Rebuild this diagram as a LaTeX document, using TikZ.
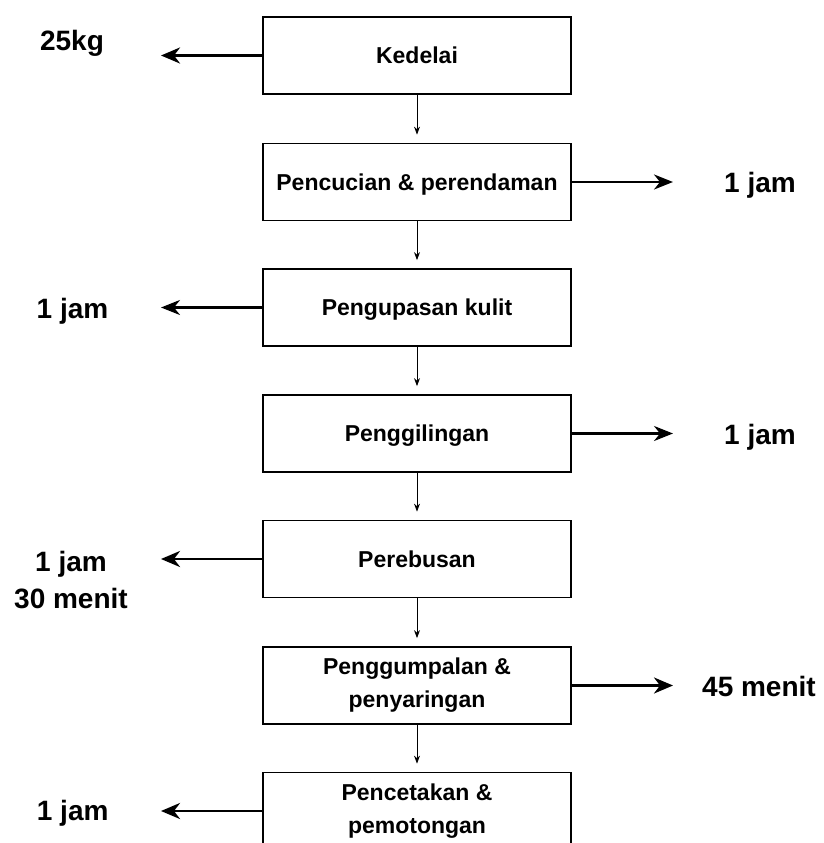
\documentclass[tikz,border=0pt]{standalone}
\usepackage{fontspec}
\setmainfont{Liberation Sans}
\usetikzlibrary{arrows.meta}
\begin{document}
\begin{tikzpicture}[x=1pt,y=-1pt,
  boxbase/.style={draw, line width=1.8pt, minimum width=308pt, minimum height=77pt, inner sep=0pt, align=center,
    font=\fontsize{23}{33}\selectfont\bfseries},
  box/.style={boxbase, text height=16.4pt, text depth=0pt},
  box2/.style={boxbase},
  lbl/.style={font=\fontsize{28}{37}\selectfont\bfseries, align=center, inner sep=0pt, anchor=base},
  down/.style={-{Stealth[length=8pt,width=6pt]}, line width=0.9pt, shorten >=8pt},
  side/.style={-{Stealth[length=19pt,width=16pt,inset=6pt]}, line width=2.8pt},
  sidethin/.style={-{Stealth[length=19pt,width=15pt,inset=6pt]}, line width=2.1pt}]
\clip (0,0) rectangle (823,843);
\fill[white] (0,0) rectangle (823,843);
\node[box] (b1) at (417,55.5) {Kedelai};
\node[box] (b2) at (417,182) {Pencucian \& perendaman};
\node[box] (b3) at (417,307.5) {Pengupasan kulit};
\node[box] (b4) at (417,433.5) {Penggilingan};
\node[box] (b5) at (417,559) {Perebusan};
\node[box2] (b6) at (417,685.5) {Penggumpalan \&\\penyaringan};
\node[box2] (b7) at (417,811) {Pencetakan \&\\pemotongan};
\foreach \a/\b in {b1/b2,b2/b3,b3/b4,b4/b5,b5/b6,b6/b7}
  \draw[down] (\a) -- (\b);
\coordinate (t1) at (161,55.5);
\coordinate (t2) at (673,182);
\coordinate (t3) at (161,307.5);
\coordinate (t4) at (673,433.5);
\coordinate (t5) at (161,559);
\coordinate (t6) at (673,685.5);
\coordinate (t7) at (161,811);
\draw[side] (b1.west) -- (t1);
\draw[sidethin] (b2.east) -- (t2);
\draw[sidethin] (b3.west) -- (t3);
\draw[sidethin] (b4.east) -- (t4);
\draw[side] (b5.west) -- (t5);
\draw[side] (b6.east) -- (t6);
\draw[side] (b7.west) -- (t7);
\node[lbl] (l1) at (72,50.7) {25kg};
\node[lbl] (l2) at (760,192.7) {1 jam};
\node[lbl] (l3) at (72.5,318.3) {1 jam};
\node[lbl] (l4) at (760,444.3) {1 jam};
\node[lbl] (l5) at (71,608) {1 jam\\30 menit};
\node[lbl] (l6) at (759,696) {45 menit};
\node[lbl] (l7) at (72.7,820) {1 jam};
\end{tikzpicture}
\end{document}
